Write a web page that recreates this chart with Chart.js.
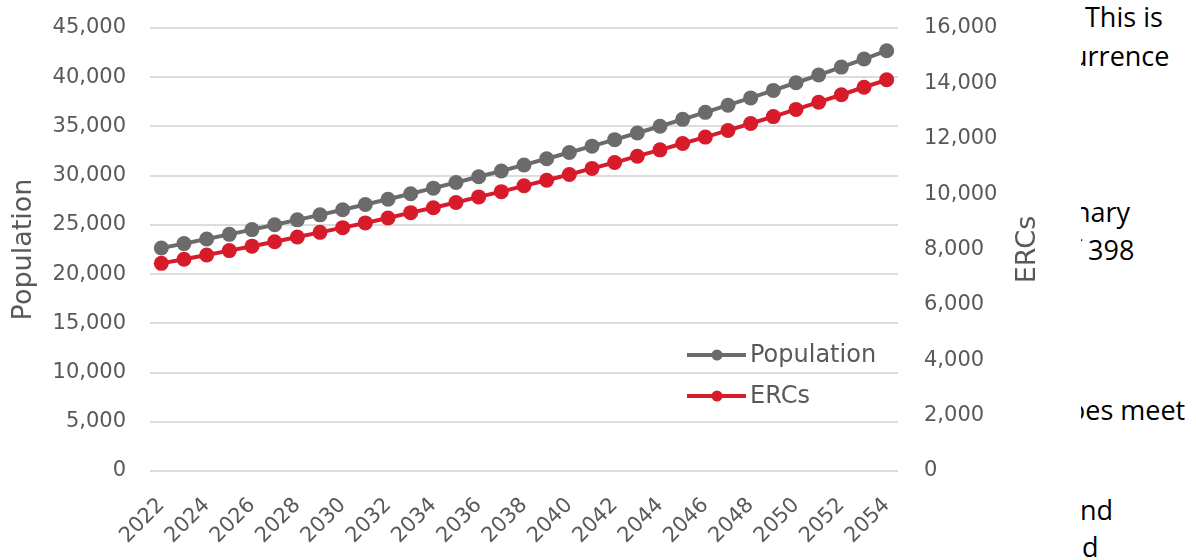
<!DOCTYPE html>
<html>
<head>
<meta charset="utf-8">
<script src="https://cdn.jsdelivr.net/npm/chart.js"></script>
<style>
    body { margin: 0; background: #fff; width: 1196px; height: 560px; overflow: hidden; position: relative; }
    #chartBox { position: absolute; left: 0; top: 0; width: 1081px; height: 560px; background: #fff; }
    #sideText { position: absolute; left: 1081px; top: 0; width: 115px; height: 560px; overflow: hidden;
                font-family: "Open Sans", sans-serif; font-size: 27px; line-height: 27px; color: #000; }
    #sideText div { position: absolute; white-space: nowrap; }
</style>
</head>
<body>
<div id="chartBox"><canvas id="lineChart" width="1081" height="560"></canvas></div>
<div id="sideText">
    <div style="left:4px;top:3px">This is</div>
    <div style="left:-10px;top:42px">urrence</div>
    <div style="left:-7px;top:198px">nary</div>
    <div style="left:-9px;top:236px">f 398</div>
    <div style="left:-12px;top:396px">oes meet</div>
    <div style="left:-1px;top:496px">nd</div>
    <div style="left:1px;top:533px">d</div>
</div>
<script>
const years = [2022, 2023, 2024, 2025, 2026, 2027, 2028, 2029, 2030, 2031, 2032,
               2033, 2034, 2035, 2036, 2037, 2038, 2039, 2040, 2041, 2042, 2043,
               2044, 2045, 2046, 2047, 2048, 2049, 2050, 2051, 2052, 2053, 2054];

const population = [22650, 23100, 23570, 24040, 24520, 25010, 25510, 26020, 26540, 27070, 27610,
                    28160, 28730, 29300, 29890, 30480, 31090, 31720, 32350, 33000, 33660, 34330,
                    35020, 35720, 36430, 37160, 37900, 38660, 39440, 40220, 41030, 41850, 42690];

const ercs = [7500, 7650, 7800, 7960, 8120, 8280, 8450, 8620, 8790, 8960, 9140,
              9330, 9510, 9700, 9900, 10090, 10300, 10500, 10710, 10930, 11140, 11370,
              11600, 11830, 12060, 12300, 12550, 12800, 13060, 13320, 13590, 13860, 14130];

const GRAY = '#6b6b6b';
const RED = '#d81b2b';
const TEXT = '#595959';
const FONT = 'DejaVu Sans';

// legend drawn inside the plot, bottom right, like the original
const insideLegend = {
    id: 'insideLegend',
    afterDraw(chart) {
        const { ctx, chartArea } = chart;
        const x0 = chartArea.right - 211;
        const y0 = chartArea.top + 327;
        ctx.save();
        chart.data.datasets.forEach((ds, i) => {
            const y = y0 + i * 41;
            ctx.strokeStyle = ds.borderColor;
            ctx.lineWidth = 4;
            ctx.beginPath();
            ctx.moveTo(x0, y);
            ctx.lineTo(x0 + 59, y);
            ctx.stroke();
            ctx.fillStyle = ds.backgroundColor;
            ctx.beginPath();
            ctx.arc(x0 + 30, y, 5.5, 0, Math.PI * 2);
            ctx.fill();
            ctx.fillStyle = TEXT;
            ctx.font = `24px "${FONT}"`;
            ctx.textBaseline = 'middle';
            ctx.fillText(ds.label, x0 + 63, y + 1);
        });
        ctx.restore();
    }
};

// right axis title reads bottom-to-top in the original, so draw it ourselves
const rightTitle = {
    id: 'rightTitle',
    afterDraw(chart) {
        const { ctx, chartArea } = chart;
        const scale = chart.scales.y2;
        ctx.save();
        ctx.translate(scale.right - 16, (chartArea.top + chartArea.bottom) / 2);
        ctx.rotate(-Math.PI / 2);
        ctx.fillStyle = TEXT;
        ctx.font = `27px "${FONT}"`;
        ctx.textAlign = 'center';
        ctx.textBaseline = 'middle';
        ctx.fillText('ERCs', 0, 0);
        ctx.restore();
    }
};

function fixSide(width) {
    return s => {
        s.width = width;
        s.paddingTop = 0;
        s.paddingBottom = 0;
    };
}

function renderChart() {
    const ctx = document.getElementById('lineChart').getContext('2d');
    const tickFont = { family: FONT, size: 21 };
    const titleFont = { family: FONT, size: 27 };
    const fmt = v => Number(v).toLocaleString('en-US');

    new Chart(ctx, {
        type: 'line',
        data: {
            labels: years.map(String),
            datasets: [
                {
                    label: 'Population',
                    data: population,
                    yAxisID: 'y',
                    borderColor: GRAY,
                    backgroundColor: GRAY,
                    borderWidth: 4,
                    pointRadius: 7.5,
                    pointBorderWidth: 0,
                    tension: 0
                },
                {
                    label: 'ERCs',
                    data: ercs,
                    yAxisID: 'y2',
                    borderColor: RED,
                    backgroundColor: RED,
                    borderWidth: 4,
                    pointRadius: 7.5,
                    pointBorderWidth: 0,
                    tension: 0
                }
            ]
        },
        options: {
            responsive: false,
            animation: false,
            layout: { padding: { top: 28, right: 37, left: 0, bottom: 0 } },
            plugins: {
                legend: { display: false },
                tooltip: { enabled: false }
            },
            scales: {
                x: {
                    offset: true,
                    grid: { display: false, drawTicks: false },
                    border: { display: false },
                    ticks: {
                        autoSkip: false,
                        minRotation: 45,
                        maxRotation: 45,
                        padding: 22,
                        color: TEXT,
                        font: tickFont,
                        callback: (v, i) => (i % 2 === 0 ? years[i] : '')
                    },
                    afterFit: s => { s.height = 89; }
                },
                y: {
                    position: 'left',
                    min: 0,
                    max: 45000,
                    grid: { color: '#dcdcdc', lineWidth: 2, drawTicks: false },
                    border: { display: false },
                    ticks: { stepSize: 5000, padding: 24, color: TEXT, font: tickFont, callback: fmt },
                    title: { display: true, text: 'Population', color: TEXT, font: titleFont, padding: { top: 8, bottom: 0 } },
                    afterFit: fixSide(150)
                },
                y2: {
                    position: 'right',
                    min: 0,
                    max: 16000,
                    grid: { drawOnChartArea: false, drawTicks: false },
                    border: { display: false },
                    ticks: { stepSize: 2000, padding: 26, color: TEXT, font: tickFont, callback: fmt },
                    afterFit: fixSide(146)
                }
            }
        },
        plugins: [insideLegend, rightTitle]
    });
}

document.addEventListener('DOMContentLoaded', renderChart);
</script>
</body>
</html>
